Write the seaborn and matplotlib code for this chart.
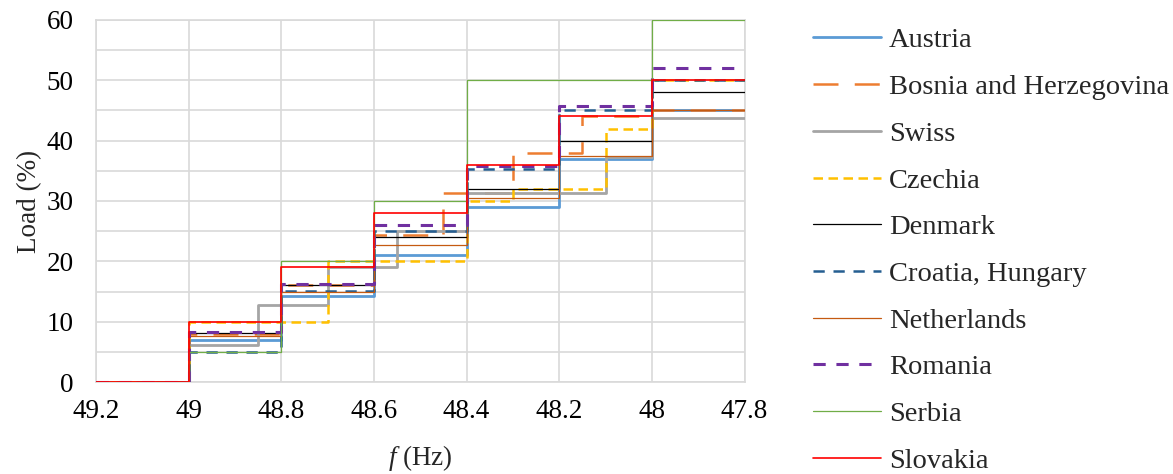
import numpy as np
import pandas as pd
import matplotlib
matplotlib.use('Agg')
import matplotlib.pyplot as plt
from matplotlib.ticker import MultipleLocator, FormatStrFormatter
import seaborn as sns

# step data: frequency where each level starts, and the load level (%)
x_end = 47.8

austria_f = [49.2, 49.0, 48.8, 48.6, 48.4, 48.2, 48.0]
austria_v = [0, 7.0, 14.3, 21.0, 29.0, 37.0, 45.0]

bosnia_f = [49.2, 49.0, 48.8, 48.6, 48.45, 48.3, 48.15, 48.0]
bosnia_v = [0, 8.0, 16.0, 24.3, 31.3, 38.0, 44.0, 45.0]

swiss_f = [49.2, 49.0, 48.85, 48.7, 48.55, 48.4, 48.1, 48.0]
swiss_v = [0, 6.2, 12.8, 19.0, 25.0, 31.3, 37.3, 43.7]

czechia_f = [49.2, 49.0, 48.7, 48.4, 48.3, 48.1, 48.0]
czechia_v = [0, 10.0, 20.0, 30.0, 32.0, 42.0, 50.0]

denmark_f = [49.2, 49.0, 48.8, 48.6, 48.4, 48.2, 48.0]
denmark_v = [0, 8.1, 16.1, 24.0, 32.0, 40.0, 48.0]

croatia_f = [49.2, 49.0, 48.8, 48.6, 48.4, 48.2, 48.0]
croatia_v = [0, 5.0, 15.1, 25.0, 35.3, 45.1, 50.0]

nether_f = [49.2, 49.0, 48.8, 48.6, 48.4, 48.2, 48.0]
nether_v = [0, 7.6, 14.9, 22.7, 30.5, 37.5, 45.0]

romania_f = [49.2, 49.0, 48.8, 48.6, 48.4, 48.2, 48.0]
romania_v = [0, 8.3, 16.2, 26.0, 35.8, 45.8, 52.0]

serbia_f = [49.2, 49.0, 48.8, 48.6, 48.4, 48.0]
serbia_v = [0, 5.0, 20.0, 30.0, 50.0, 60.0]

slovakia_f = [49.2, 49.0, 48.8, 48.6, 48.4, 48.2, 48.0]
slovakia_v = [0, 10.0, 19.1, 28.0, 36.0, 44.0, 50.0]

series = [
    ('Austria', austria_f, austria_v, '#5B9BD5', 2.0, '-'),
    ('Bosnia and Herzegovina', bosnia_f, bosnia_v, '#ED7D31', 1.8, (0, (10, 6.5))),
    ('Swiss', swiss_f, swiss_v, '#A5A5A5', 2.0, '-'),
    ('Czechia', czechia_f, czechia_v, '#FFC000', 1.8, (0, (3.8, 2.2))),
    ('Denmark', denmark_f, denmark_v, '#000000', 0.9, '-'),
    ('Croatia, Hungary', croatia_f, croatia_v, '#255E91', 1.8, (0, (4.5, 3.5))),
    ('Netherlands', nether_f, nether_v, '#C55A11', 0.9, '-'),
    ('Romania', romania_f, romania_v, '#7030A0', 2.2, (0, (4.0, 3.5))),
    ('Serbia', serbia_f, serbia_v, '#70AD47', 0.9, '-'),
    ('Slovakia', slovakia_f, slovakia_v, '#FF0000', 1.2, '-'),
]

sns.set_style('white')
plt.rcParams['font.family'] = ['Liberation Serif', 'DejaVu Serif']
plt.rcParams['mathtext.fontset'] = 'custom'
plt.rcParams['mathtext.rm'] = 'Liberation Serif'
plt.rcParams['mathtext.it'] = 'Liberation Serif:italic'

fs = 19.5

fig = plt.figure(figsize=(11.73, 4.74), dpi=100)
ax = fig.add_axes([0.0818, 0.194, 0.553, 0.764])

for i, (name, f, v, col, lw, ls) in enumerate(series):
    d = pd.DataFrame({'f': f + [x_end], 'load': v + [v[-1]]})
    sns.lineplot(data=d, x='f', y='load', ax=ax, sort=False, estimator=None,
                 drawstyle='steps-post', color=col, lw=lw, linestyle=ls,
                 label=name, zorder=3 + i)

ax.set_xlim(49.2, 47.8)
ax.set_ylim(0, 60)
ax.xaxis.set_major_locator(MultipleLocator(0.2))
ax.xaxis.set_major_formatter(FormatStrFormatter('%g'))
ax.yaxis.set_major_locator(MultipleLocator(10))
ax.yaxis.set_minor_locator(MultipleLocator(5))
ax.grid(True, which='major', color='#D9D9D9', lw=1.2, zorder=0)
ax.grid(True, which='minor', axis='y', color='#D9D9D9', lw=1.2, zorder=0)
ax.set_axisbelow(True)
for s in ax.spines.values():
    s.set_color('#D9D9D9')
    s.set_linewidth(1.2)
ax.tick_params(axis='both', which='both', length=0, labelsize=fs, colors='black')
ax.tick_params(axis='y', pad=16)
ax.tick_params(axis='x', pad=12)

ax.set_xlabel(r'$f$ (Hz)', fontsize=fs, labelpad=14)
ax.set_ylabel('Load (%)', fontsize=fs, labelpad=3)

ax.legend(loc='upper left', bbox_to_anchor=(0.693, 0.942), bbox_transform=fig.transFigure,
          frameon=False, fontsize=20.5, handlelength=2.4, handletextpad=0.28,
          labelspacing=0.73, borderpad=0, borderaxespad=0)

fig.savefig('out.png', dpi=100)
